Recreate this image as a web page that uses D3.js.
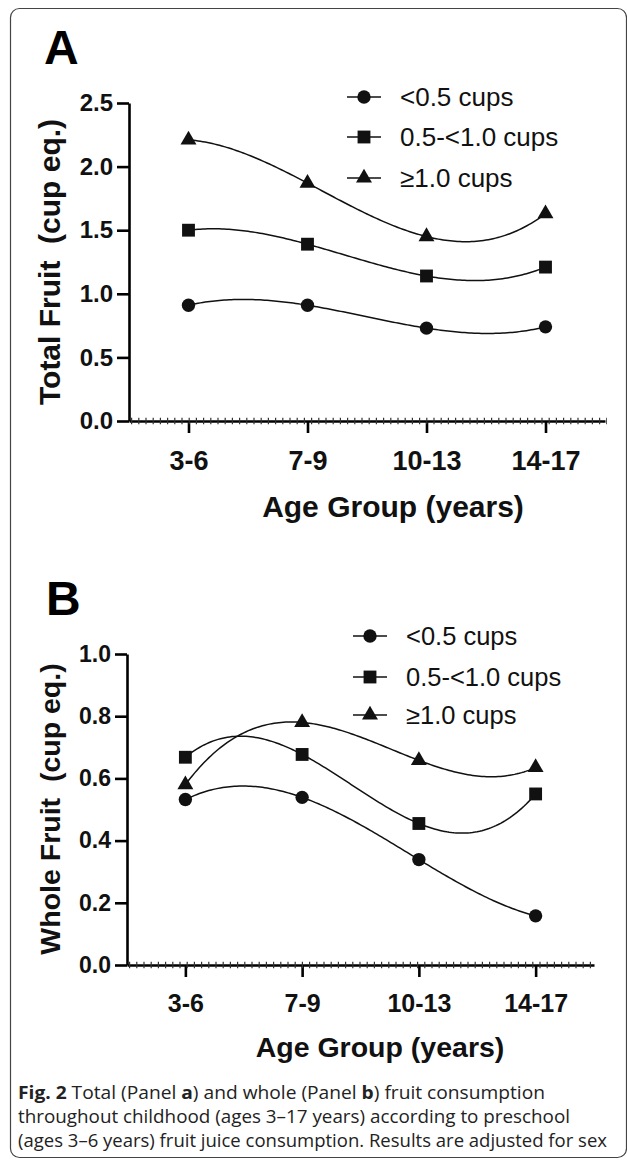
<!DOCTYPE html>
<html>
<head>
<meta charset="utf-8">
<script src="https://cdn.jsdelivr.net/npm/d3@7"></script>
<style>
  body { margin: 0; background: #fff; }
  svg { display: block; }
</style>
</head>
<body>
<svg id="chart" width="627" height="1161"></svg>
<script>
// data
var categories = ["3-6", "7-9", "10-13", "14-17"];
var seriesNames = ["<0.5 cups", "0.5-<1.0 cups", "\u22651.0 cups"];
var seriesSymbols = [d3.symbolCircle, d3.symbolSquare, d3.symbolTriangle];

var totalLow = [0.91, 0.91, 0.73, 0.74];
var totalMid = [1.50, 1.39, 1.14, 1.21];
var totalHigh = [2.21, 1.87, 1.45, 1.63];

var wholeLow = [0.532, 0.539, 0.339, 0.158];
var wholeMid = [0.668, 0.677, 0.455, 0.55];
var wholeHigh = [0.58, 0.78, 0.658, 0.635];

var totalTicks = [0, 0.5, 1.0, 1.5, 2.0, 2.5];
var wholeTicks = [0, 0.2, 0.4, 0.6, 0.8, 1.0];

var font = "'Liberation Sans', Arial, Helvetica, sans-serif";
var svg = d3.select("#chart");

svg.append("rect")
  .attr("x", 10.5).attr("y", 8.5)
  .attr("width", 616).attr("height", 1149)
  .attr("rx", 9)
  .attr("fill", "none")
  .attr("stroke", "#444")
  .attr("stroke-width", 1.2);

// cubic through the four group means (Prism style fit)
function cubicAt(vals, t) {
  var n = vals.length, s = 0;
  for (var i = 0; i < n; i++) {
    var w = 1;
    for (var j = 0; j < n; j++) {
      if (j !== i) w *= (t - j) / (i - j);
    }
    s += w * vals[i];
  }
  return s;
}

function drawPanel(p) {
  var g = svg.append("g");

  var x = d3.scalePoint().domain(categories).range([p.left, p.right]).padding(0.5);
  var y = d3.scaleLinear().domain([0, p.ticks[p.ticks.length - 1]]).range([p.bottom, p.top]);
  var xi = d3.scaleLinear().domain([0, categories.length - 1])
    .range([x(categories[0]), x(categories[categories.length - 1])]);

  g.append("text")
    .attr("x", p.letterX).attr("y", p.letterY)
    .attr("font-family", font).attr("font-weight", "bold")
    .attr("font-size", 48)
    .text(p.letter);

  // y axis
  var yAxis = g.append("g")
    .attr("transform", "translate(" + p.left + ",0)")
    .call(d3.axisLeft(y).tickValues(p.ticks).tickFormat(d3.format(".1f"))
      .tickSize(12).tickSizeOuter(0).tickPadding(4));
  yAxis.select(".domain").attr("stroke-width", 2.6);
  yAxis.selectAll(".tick line").attr("stroke-width", 2.6);
  yAxis.selectAll(".tick text")
    .attr("font-family", font).attr("font-weight", "bold")
    .attr("font-size", p.yTickSize).attr("fill", "#111");

  // x axis
  var xAxis = g.append("g")
    .attr("transform", "translate(0," + p.bottom + ")")
    .call(d3.axisBottom(x).tickSize(12).tickSizeOuter(0).tickPadding(p.xPad));
  xAxis.select(".domain").attr("stroke-width", 2.6);
  xAxis.selectAll(".tick line").attr("stroke-width", 2.6);
  xAxis.selectAll(".tick text")
    .attr("font-family", font).attr("font-weight", "bold")
    .attr("font-size", p.xTickSize).attr("fill", "#111");
  xAxis.append("line")
    .attr("x1", p.left + 2).attr("x2", p.right + 2)
    .attr("stroke", "#333").attr("stroke-width", 6.5)
    .attr("stroke-dasharray", "1.2 6");

  g.append("text")
    .attr("x", p.xTitleX).attr("y", p.xTitleY)
    .attr("text-anchor", "middle")
    .attr("font-family", font).attr("font-weight", "bold")
    .attr("font-size", p.titleSize).attr("fill", "#111")
    .text("Age Group (years)");

  g.append("text")
    .attr("transform", "translate(" + p.yTitleX + "," + p.yTitleY + ") rotate(-90)")
    .attr("text-anchor", "middle")
    .attr("font-family", font).attr("font-weight", "bold")
    .attr("font-size", p.titleSize).attr("fill", "#111")
    .attr("xml:space", "preserve")
    .text(p.yTitle);

  var line = d3.line()
    .x(function (d) { return xi(d[0]); })
    .y(function (d) { return y(d[1]); });

  p.series.forEach(function (vals, k) {
    var pts = d3.range(0, 3.0001, 0.02).map(function (t) { return [t, cubicAt(vals, t)]; });
    g.append("path")
      .datum(pts)
      .attr("fill", "none").attr("stroke", "#111").attr("stroke-width", 1.5)
      .attr("d", line);

    g.selectAll(".m" + k)
      .data(vals)
      .join("path")
      .attr("transform", function (d, i) { return "translate(" + x(categories[i]) + "," + y(d) + ")"; })
      .attr("d", d3.symbol().type(seriesSymbols[k]).size(k === 2 ? 110 : (k === 1 ? 165 : 140)))
      .attr("fill", "#111");
  });

  // legend
  seriesNames.forEach(function (name, k) {
    var ly = p.legendY[k];
    g.append("line")
      .attr("x1", p.legendX - 17).attr("x2", p.legendX + 17)
      .attr("y1", ly).attr("y2", ly)
      .attr("stroke", "#111").attr("stroke-width", 1.5);
    g.append("path")
      .attr("transform", "translate(" + p.legendX + "," + ly + ")")
      .attr("d", d3.symbol().type(seriesSymbols[k]).size(k === 2 ? 110 : (k === 1 ? 165 : 140)))
      .attr("fill", "#111");
    g.append("text")
      .attr("x", p.legendX + 36).attr("y", ly + 9)
      .attr("font-family", font).attr("font-size", p.legendSize).attr("fill", "#111")
      .text(name);
  });
}

drawPanel({
  letter: "A", letterX: 44, letterY: 64,
  left: 129, right: 605, top: 103, bottom: 421,
  ticks: totalTicks, series: [totalLow, totalMid, totalHigh],
  yTickSize: 24, xTickSize: 27, xPad: 18, titleSize: 30,
  xTitleX: 393, xTitleY: 517,
  yTitle: "Total Fruit  (cup eq.)", yTitleX: 60, yTitleY: 262,
  legendX: 364, legendY: [97, 137, 178], legendSize: 26
});

drawPanel({
  letter: "B", letterX: 46, letterY: 615,
  left: 127, right: 594, top: 654, bottom: 965,
  ticks: wholeTicks, series: [wholeLow, wholeMid, wholeHigh],
  yTickSize: 23, xTickSize: 25, xPad: 17, titleSize: 28.5,
  xTitleX: 380, xTitleY: 1057,
  yTitle: "Whole Fruit  (cup eq.)", yTitleX: 60, yTitleY: 809,
  legendX: 370, legendY: [636, 677, 715], legendSize: 25.5
});

// caption
var capFont = "'Open Sans', 'Noto Sans', sans-serif";
var cap = svg.append("g")
  .attr("font-family", capFont).attr("font-size", 17.5).attr("fill", "#222");

var l1 = cap.append("text").attr("x", 18).attr("y", 1099).attr("textLength", 527).attr("lengthAdjust", "spacingAndGlyphs");
l1.append("tspan").attr("font-weight", "bold").text("Fig. 2");
l1.append("tspan").text(" Total (Panel ");
l1.append("tspan").attr("font-weight", "bold").text("a");
l1.append("tspan").text(") and whole (Panel ");
l1.append("tspan").attr("font-weight", "bold").text("b");
l1.append("tspan").text(") fruit consumption");

cap.append("text").attr("x", 18).attr("y", 1123)
  .attr("textLength", 552).attr("lengthAdjust", "spacingAndGlyphs")
  .text("throughout childhood (ages 3\u201317 years) according to preschool");
cap.append("text").attr("x", 18).attr("y", 1147)
  .attr("textLength", 589).attr("lengthAdjust", "spacingAndGlyphs")
  .text("(ages 3\u20136 years) fruit juice consumption. Results are adjusted for sex");
</script>
</body>
</html>
